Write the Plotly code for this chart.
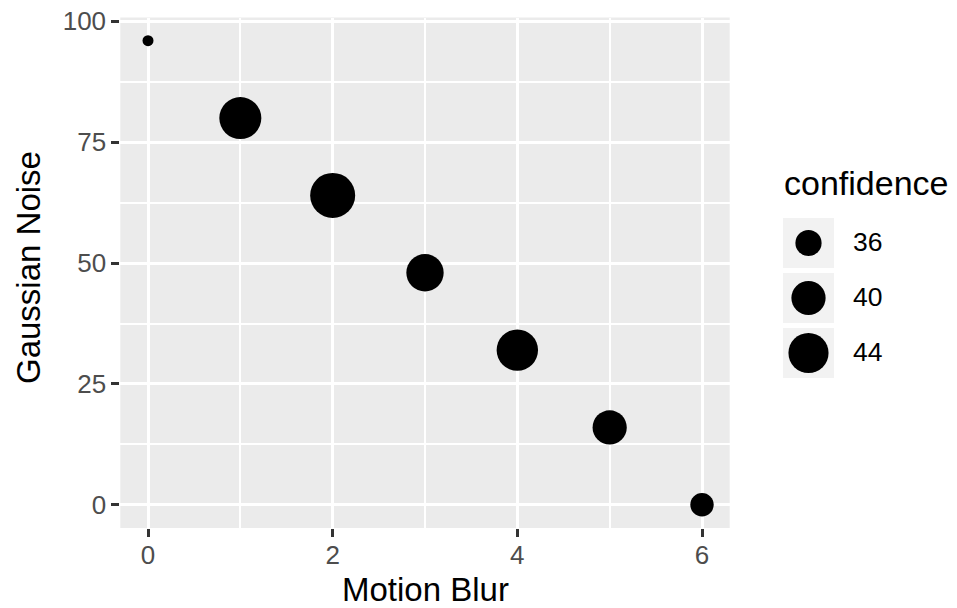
import numpy as np
import plotly.graph_objects as go

# ---- data ----
motion_blur = [0, 1, 2, 3, 4, 5, 6]
gaussian_noise = [96, 80, 64, 48, 32, 16, 0]
confidence = [33, 45.5, 48, 42, 45, 40, 35]
legend_values = [36, 40, 44]
x_ticks = [0, 2, 4, 6]
y_ticks = [0, 25, 50, 75, 100]

W, H = 957, 608
FONT = "Liberation Sans, Arial, sans-serif"

# size scale (area-like: diameter ~ sqrt of rescaled value)
D_MIN, D_MAX = 11, 45
vmin, vmax = min(confidence), max(confidence)


def size_scale(v):
    t = (np.asarray(v, dtype=float) - vmin) / (vmax - vmin)
    t = np.clip(t, 0, 1)
    return D_MIN + (D_MAX - D_MIN) * np.sqrt(t)


# panel geometry (pixels)
PL, PR, PT, PB = 120.3, 729.7, 17.5, 528.0

fig = go.Figure()

fig.add_trace(go.Scatter(
    x=motion_blur, y=gaussian_noise, mode="markers",
    marker=dict(color="black", size=size_scale(confidence), opacity=1, line=dict(width=0)),
    xaxis="x", yaxis="y", showlegend=False, hoverinfo="skip",
))

# legend drawn in a pixel-coordinate helper subplot
LX0 = 0.8 * W
KEY_X0, KEY_W, KEY_H, KEY_GAP, KEY_TOP = 783, 51, 50, 5, 218
key_centers_y = [KEY_TOP + KEY_H / 2 + i * (KEY_H + KEY_GAP) for i in range(len(legend_values))]
key_center_x = KEY_X0 + KEY_W / 2

shapes = [dict(type="rect", xref="x domain", yref="y domain", x0=0, x1=1, y0=0, y1=1,
               fillcolor="#EBEBEB", line=dict(width=0), layer="below")]
for cy in key_centers_y:
    shapes.append(dict(type="rect", xref="x2", yref="y2",
                       x0=KEY_X0, x1=KEY_X0 + KEY_W, y0=cy - KEY_H / 2, y1=cy + KEY_H / 2,
                       fillcolor="#F2F2F2", line=dict(width=0), layer="below"))

fig.add_trace(go.Scatter(
    x=[key_center_x] * len(legend_values), y=key_centers_y, mode="markers",
    marker=dict(color="black", size=size_scale(legend_values), opacity=1, line=dict(width=0)),
    xaxis="x2", yaxis="y2", showlegend=False, hoverinfo="skip",
))

fig.add_trace(go.Scatter(
    x=[853] * len(legend_values), y=[c + 1 for c in key_centers_y], mode="text",
    text=[str(v) for v in legend_values], textposition="middle right",
    textfont=dict(family=FONT, size=26.5, color="black"),
    xaxis="x2", yaxis="y2", showlegend=False, hoverinfo="skip",
))

annotations = [
    dict(text="Motion Blur", x=(PL + PR) / 2 / W, y=1 - 589.5 / H, xref="paper", yref="paper",
         xanchor="center", yanchor="middle", showarrow=False,
         font=dict(family=FONT, size=33, color="black")),
    dict(text="Gaussian Noise", x=28 / W, y=1 - 268 / H, xref="paper", yref="paper",
         xanchor="center", yanchor="middle", showarrow=False, textangle=-90,
         font=dict(family=FONT, size=33, color="black")),
    dict(text="confidence", x=782 / W, y=1 - 183.5 / H, xref="paper", yref="paper",
         xanchor="left", yanchor="middle", showarrow=False,
         font=dict(family=FONT, size=34, color="black")),
]

axis_common = dict(
    showline=False, zeroline=False, ticks="outside", ticklen=8, tickwidth=2.6,
    tickcolor="#333333", showgrid=True, gridcolor="white", gridwidth=3,
    tickfont=dict(family=FONT, size=26, color="#4D4D4D"), automargin=False,
)

fig.update_layout(
    width=W, height=H,
    margin=dict(l=0, r=0, t=0, b=0),
    paper_bgcolor="white", plot_bgcolor="rgba(0,0,0,0)",
    xaxis=dict(domain=[PL / W, PR / W], range=[-0.3, 6.3], autorange=False, tickvals=x_ticks,
               minor=dict(dtick=1, tick0=0, showgrid=True, gridcolor="white", gridwidth=1.5, ticks=""),
               ticklabelstandoff=-4, anchor="y", **axis_common),
    yaxis=dict(domain=[1 - PB / H, 1 - PT / H], range=[-4.8, 100.8], autorange=False, tickvals=y_ticks,
               minor=dict(dtick=12.5, tick0=0, showgrid=True, gridcolor="white", gridwidth=1.5, ticks=""),
               anchor="x", **axis_common),
    xaxis2=dict(domain=[0.8, 1.0], range=[LX0, W], visible=False, anchor="y2", fixedrange=True),
    yaxis2=dict(domain=[0, 1], range=[H, 0], visible=False, anchor="x2", fixedrange=True),
    shapes=shapes,
    annotations=annotations,
)

fig.write_html("out.html", config={"displayModeBar": False},
               post_script="document.body.style.margin='0';document.body.style.overflow='hidden';")
